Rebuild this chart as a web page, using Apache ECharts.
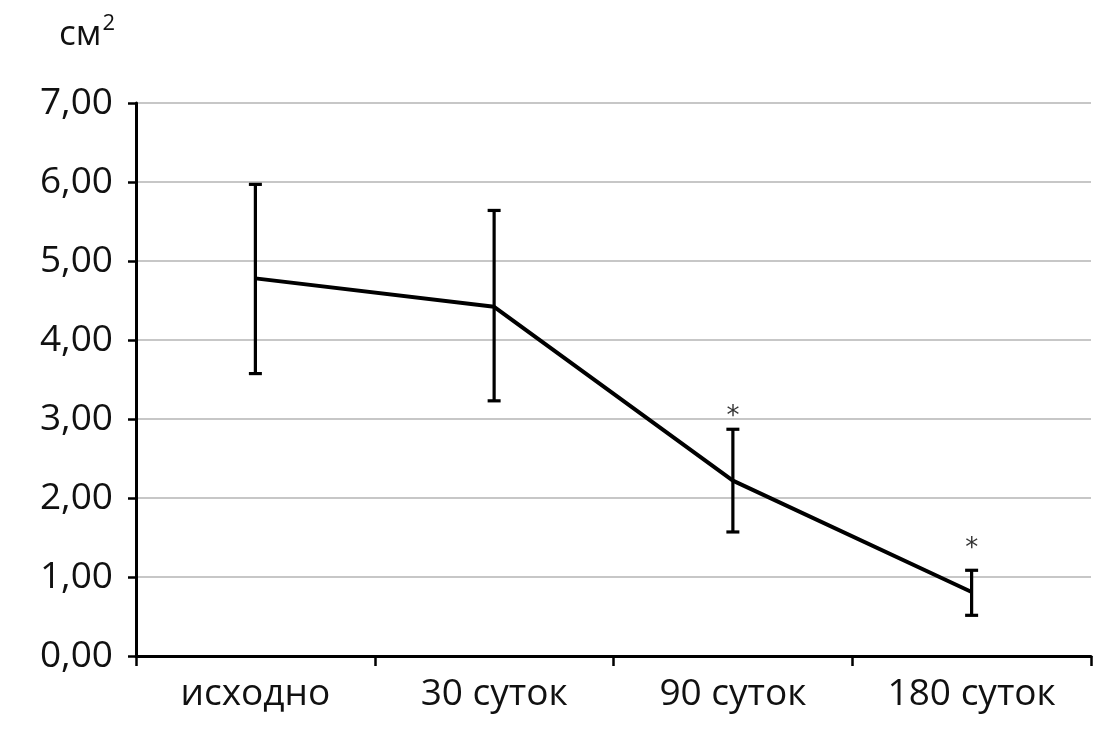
<!DOCTYPE html>
<html>
<head>
<meta charset="utf-8">
<script src="https://cdn.jsdelivr.net/npm/echarts@6/dist/echarts.min.js"></script>
<style>
html,body{margin:0;padding:0;background:#fff;}
#c{width:1094px;height:741px;}
</style>
</head>
<body>
<div id="c"></div>
<script>
const categories = ['исходно', '30 суток', '90 суток', '180 суток'];
const meanValues = [4.78, 4.42, 2.22, 0.81];
const upperValues = [5.97, 5.64, 2.87, 1.085];
const lowerValues = [3.575, 3.23, 1.57, 0.515];
const asteriskY = [null, null, 3.10, 1.43];
const yTicks = [0, 1, 2, 3, 4, 5, 6, 7];

const FONT = "'Open Sans', 'Noto Sans', sans-serif";

const errorData = categories.map((c, i) => [i, lowerValues[i], upperValues[i]]);
const starData = categories.map((c, i) => asteriskY[i] == null ? null : [i, asteriskY[i]]).filter(d => d);

const chart = echarts.init(document.getElementById('c'), null, {renderer: 'canvas'});
chart.setOption({
  animation: false,
  backgroundColor: '#ffffff',
  title: {
    text: '{a|см}{b|2}',
    left: 54, top: 8,
    textStyle: {
      fontWeight: 'normal',
      rich: {
        a: {fontFamily: FONT, fontSize: 35, fontWeight: 'normal', color: '#111', verticalAlign: 'bottom'},
        b: {fontFamily: FONT, fontSize: 22, fontWeight: 'normal', color: '#111', verticalAlign: 'top', padding: [0, 0, 18, 1]}
      }
    }
  },
  grid: {left: 136, right: 3, top: 103, bottom: 85, containLabel: false},
  xAxis: {
    type: 'category',
    data: categories,
    boundaryGap: true,
    axisLine: {lineStyle: {color: '#000', width: 3}},
    axisTick: {show: true, interval: 0, length: 10, lineStyle: {color: '#000', width: 2.5}},
    axisLabel: {interval: 0, fontFamily: FONT, fontSize: 37, color: '#111', margin: 20},
    splitLine: {show: false}
  },
  yAxis: {
    type: 'value',
    min: yTicks[0], max: yTicks[yTicks.length - 1], interval: 1,
    axisLine: {show: true, lineStyle: {color: '#000', width: 3}},
    axisTick: {show: true, length: 8, lineStyle: {color: '#000', width: 2.5}},
    axisLabel: {fontFamily: FONT, fontSize: 37, color: '#111', margin: 23,
      formatter: v => v.toFixed(2).replace('.', ',')},
    splitLine: {show: true, lineStyle: {color: '#b4b4b4', width: 1.5}}
  },
  series: [
    {
      type: 'custom',
      data: errorData,
      encode: {x: 0, y: [1, 2]},
      z: 3,
      renderItem: function (params, api) {
        const x = api.value(0);
        const lo = api.coord([x, api.value(1)]);
        const hi = api.coord([x, api.value(2)]);
        const hw = 6.5;
        const style = {stroke: '#000', lineWidth: 3.2};
        return {
          type: 'group',
          children: [
            {type: 'line', shape: {x1: hi[0], y1: hi[1], x2: lo[0], y2: lo[1]}, style: style},
            {type: 'line', shape: {x1: hi[0] - hw, y1: hi[1], x2: hi[0] + hw, y2: hi[1]}, style: style},
            {type: 'line', shape: {x1: lo[0] - hw, y1: lo[1], x2: lo[0] + hw, y2: lo[1]}, style: style}
          ]
        };
      }
    },
    {
      type: 'line',
      data: meanValues,
      symbol: 'none',
      z: 4,
      lineStyle: {color: '#000', width: 4}
    },
    {
      type: 'scatter',
      data: starData,
      symbolSize: 0,
      z: 5,
      label: {show: true, position: 'inside', formatter: '*', fontFamily: "'DejaVu Sans', sans-serif", fontSize: 26, color: '#000', offset: [0, 6]}
    }
  ]
});
</script>
</body>
</html>
